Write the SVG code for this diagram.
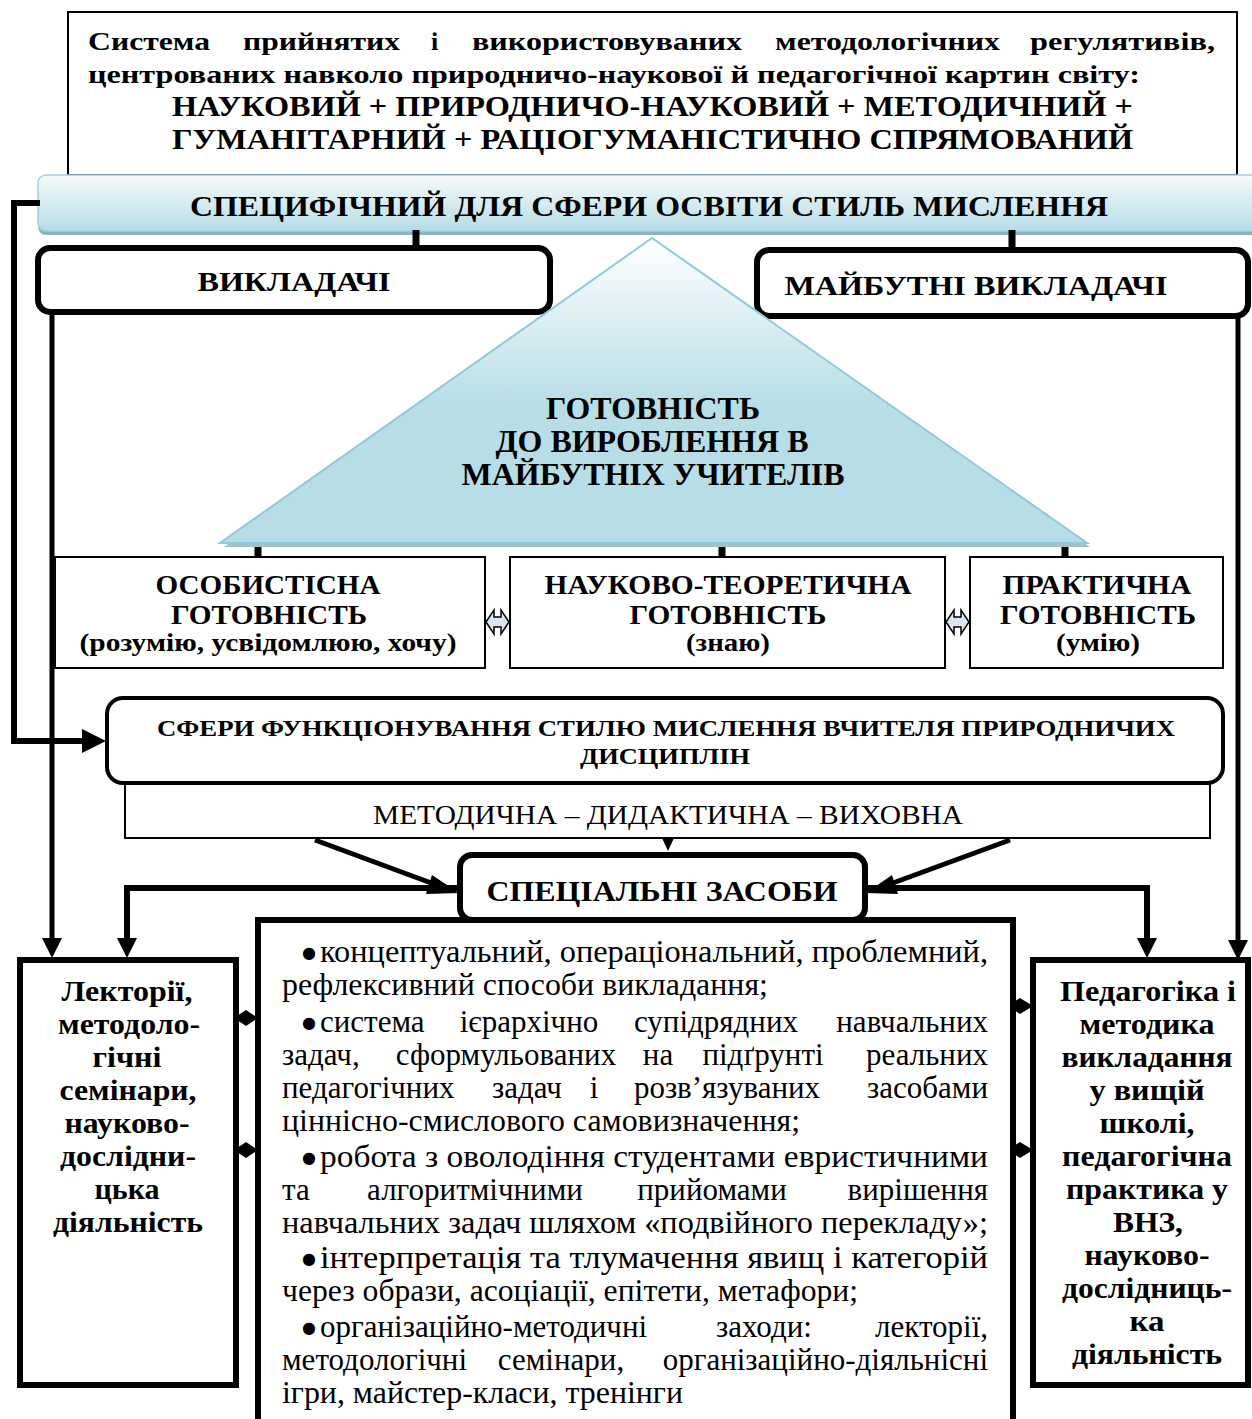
<svg xmlns="http://www.w3.org/2000/svg" width="1252" height="1419" viewBox="0 0 1252 1419">
<defs>
<linearGradient id="gBanner" x1="0" y1="0" x2="0" y2="1">
<stop offset="0" stop-color="#f7fbfc"/>
<stop offset="1" stop-color="#b5dce6"/>
</linearGradient>
<linearGradient id="gTri" gradientUnits="userSpaceOnUse" x1="0" y1="238" x2="0" y2="543">
<stop offset="0" stop-color="#ffffff"/>
<stop offset="0.55" stop-color="#b7dde6"/>
<stop offset="1" stop-color="#b7dde6"/>
</linearGradient>
<style>
.t{font-family:"Liberation Serif","Times New Roman",serif;fill:#000}
.b{font-weight:bold}
.box{fill:#fff;stroke:#000}
.thin{stroke-width:2}
.thick{stroke-width:6}
.c{text-anchor:middle}
.e{text-anchor:end}
.ln{fill:none;stroke:#000;stroke-width:6}
.body{font-size:31px}
.bul{font-family:"DejaVu Sans",sans-serif;font-size:16px}
</style>
</defs>

<g id="top-box">
<rect class="box thin" x="68" y="12" width="1169" height="163"/>
<text class="t b" font-size="26" y="50">
<tspan x="88" textLength="122" lengthAdjust="spacingAndGlyphs">Система</tspan>
<tspan x="243" textLength="157" lengthAdjust="spacingAndGlyphs">прийнятих</tspan>
<tspan x="431">і</tspan>
<tspan x="472" textLength="270" lengthAdjust="spacingAndGlyphs">використовуваних</tspan>
<tspan x="775" textLength="225" lengthAdjust="spacingAndGlyphs">методологічних</tspan>
<tspan x="1030" textLength="185" lengthAdjust="spacingAndGlyphs">регулятивів,</tspan>
</text>
<text class="t b" font-size="26" x="88" y="83" textLength="1052" lengthAdjust="spacingAndGlyphs">центрованих навколо природничо-наукової й педагогічної картин світу:</text>
<text class="t b" font-size="30" x="172" y="116" textLength="961" lengthAdjust="spacingAndGlyphs">НАУКОВИЙ + ПРИРОДНИЧО-НАУКОВИЙ + МЕТОДИЧНИЙ +</text>
<text class="t b" font-size="30" x="172" y="149" textLength="961" lengthAdjust="spacingAndGlyphs">ГУМАНІТАРНИЙ + РАЦІОГУМАНІСТИЧНО СПРЯМОВАНИЙ</text>
</g>

<g id="banner">
<rect x="38" y="179" width="1240" height="56" rx="8" fill="#8fb2bd"/>
<rect x="38" y="175" width="1240" height="56" rx="8" fill="url(#gBanner)" stroke="#9fd2df" stroke-width="1.5"/>
<text class="t b" font-size="30" x="190" y="216" textLength="918" lengthAdjust="spacingAndGlyphs">СПЕЦИФІЧНИЙ ДЛЯ СФЕРИ ОСВІТИ СТИЛЬ МИСЛЕННЯ</text>
</g>

<g id="connectors">
<path class="ln" d="M40,203 H14 V741 H88"/>
<path d="M82,729 L106,741 L82,753 z" fill="#000"/>
<line x1="416" y1="230" x2="416" y2="248" stroke="#000" stroke-width="7"/>
<line x1="1012" y1="230" x2="1012" y2="250" stroke="#000" stroke-width="7"/>
<line x1="52" y1="312" x2="52" y2="940" stroke="#000" stroke-width="5"/>
<path d="M42,938 L52,958 L62,938 z" fill="#000"/>
<line x1="1238" y1="316" x2="1238" y2="942" stroke="#000" stroke-width="5"/>
<path d="M1228,940 L1238,960 L1248,940 z" fill="#000"/>
<line x1="258" y1="541" x2="258" y2="558" stroke="#000" stroke-width="7"/>
<line x1="722" y1="541" x2="722" y2="558" stroke="#000" stroke-width="7"/>
<line x1="1065" y1="541" x2="1065" y2="558" stroke="#000" stroke-width="7"/>
<path d="M486,622 L494,610 L494,617 L501,617 L501,610 L509,622 L501,634 L501,627 L494,627 L494,634 z" fill="#dbe5f1" stroke="#000" stroke-width="1.5"/>
<path d="M946,622 L954,610 L954,617 L961,617 L961,610 L969,622 L961,634 L961,627 L954,627 L954,634 z" fill="#dbe5f1" stroke="#000" stroke-width="1.5"/>
<line x1="315" y1="840" x2="442" y2="887" stroke="#000" stroke-width="5"/>
<path d="M432,875 L459,893 L426,894 z" fill="#000"/>
<line x1="1010" y1="840" x2="882" y2="887" stroke="#000" stroke-width="5"/>
<path d="M892,875 L866,893 L898,894 z" fill="#000"/>
<path d="M662,838 L674,838 L668,851 z" fill="#000"/>
<path class="ln" d="M462,888 H127 V940"/>
<path d="M117,938 L127,958 L137,938 z" fill="#000"/>
<path class="ln" d="M863,888 H1147 V940"/>
<path d="M1137,938 L1147,958 L1157,938 z" fill="#000"/>
<path d="M234,1018 L246,1010 L258,1018 L246,1026 z" fill="#000"/>
<path d="M234,1150 L246,1142 L258,1150 L246,1158 z" fill="#000"/>
<path d="M1008,1006 L1020,998 L1033,1006 L1020,1014 z" fill="#000"/>
<path d="M1008,1150 L1020,1142 L1033,1150 L1020,1158 z" fill="#000"/>
</g>

<g id="teachers">
<rect class="box thick" x="38" y="248" width="512" height="64" rx="12"/>
<text class="t b c" font-size="28" x="294" y="291" textLength="193" lengthAdjust="spacingAndGlyphs">ВИКЛАДАЧІ</text>
</g>

<g id="future-teachers">
<rect class="box thick" x="757" y="250" width="491" height="66" rx="12"/>
<text class="t b c" font-size="28" x="976" y="295" textLength="383" lengthAdjust="spacingAndGlyphs">МАЙБУТНІ ВИКЛАДАЧІ</text>
</g>

<g id="readiness-triangle">
<polygon points="652,243 224,547 1090,547" fill="#a3c1ca"/>
<polygon points="652,238 220,543 1087,543" fill="url(#gTri)" stroke="#8ecadb" stroke-width="2"/>
<text class="t b c" font-size="31" x="653" y="419" textLength="214" lengthAdjust="spacingAndGlyphs">ГОТОВНІСТЬ</text>
<text class="t b c" font-size="31" x="652" y="452" textLength="313" lengthAdjust="spacingAndGlyphs">ДО ВИРОБЛЕННЯ В</text>
<text class="t b c" font-size="31" x="653" y="485" textLength="383" lengthAdjust="spacingAndGlyphs">МАЙБУТНІХ УЧИТЕЛІВ</text>
</g>

<g id="personal-readiness">
<rect class="box thin" x="55" y="557" width="430" height="111"/>
<text class="t b c" font-size="27" x="268" y="594" textLength="225" lengthAdjust="spacingAndGlyphs">ОСОБИСТІСНА</text>
<text class="t b c" font-size="27" x="269" y="624" textLength="196" lengthAdjust="spacingAndGlyphs">ГОТОВНІСТЬ</text>
<text class="t b c" font-size="25" x="268" y="651" textLength="377" lengthAdjust="spacingAndGlyphs">(розумію, усвідомлюю, хочу)</text>
</g>

<g id="theoretical-readiness">
<rect class="box thin" x="510" y="557" width="435" height="111"/>
<text class="t b c" font-size="27" x="728" y="594" textLength="367" lengthAdjust="spacingAndGlyphs">НАУКОВО-ТЕОРЕТИЧНА</text>
<text class="t b c" font-size="27" x="728" y="624" textLength="197" lengthAdjust="spacingAndGlyphs">ГОТОВНІСТЬ</text>
<text class="t b c" font-size="25" x="728" y="651" textLength="84" lengthAdjust="spacingAndGlyphs">(знаю)</text>
</g>

<g id="practical-readiness">
<rect class="box thin" x="970" y="557" width="253" height="111"/>
<text class="t b c" font-size="27" x="1097" y="594" textLength="189" lengthAdjust="spacingAndGlyphs">ПРАКТИЧНА</text>
<text class="t b c" font-size="27" x="1098" y="624" textLength="196" lengthAdjust="spacingAndGlyphs">ГОТОВНІСТЬ</text>
<text class="t b c" font-size="25" x="1098" y="651" textLength="84" lengthAdjust="spacingAndGlyphs">(умію)</text>
</g>

<g id="spheres">
<rect class="box" stroke-width="4" x="107" y="698" width="1116" height="85" rx="16"/>
<text class="t b c" font-size="24" x="666" y="736" textLength="1018" lengthAdjust="spacingAndGlyphs">СФЕРИ ФУНКЦІОНУВАННЯ СТИЛЮ МИСЛЕННЯ ВЧИТЕЛЯ ПРИРОДНИЧИХ</text>
<text class="t b c" font-size="24" x="665" y="764" textLength="170" lengthAdjust="spacingAndGlyphs">ДИСЦИПЛІН</text>
</g>

<g id="spheres-list">
<rect class="box thin" x="125" y="784" width="1085" height="54"/>
<text class="t c" font-size="27" x="668" y="824" textLength="590" lengthAdjust="spacingAndGlyphs">МЕТОДИЧНА – ДИДАКТИЧНА – ВИХОВНА</text>
</g>

<g id="special-means">
<rect class="box thick" x="460" y="855" width="405" height="65" rx="12"/>
<text class="t b c" font-size="29" x="662" y="901" textLength="351" lengthAdjust="spacingAndGlyphs">СПЕЦІАЛЬНІ ЗАСОБИ</text>
</g>

<g id="lectures">
<rect class="box thick" x="20" y="960" width="216" height="425"/>
<g class="t b c" font-size="30">
<text x="127" y="1001" textLength="131" lengthAdjust="spacingAndGlyphs">Лекторії,</text>
<text x="129" y="1034" textLength="142" lengthAdjust="spacingAndGlyphs">методоло-</text>
<text x="127" y="1067" textLength="69" lengthAdjust="spacingAndGlyphs">гічні</text>
<text x="128" y="1100" textLength="137" lengthAdjust="spacingAndGlyphs">семінари,</text>
<text x="127" y="1133" textLength="125" lengthAdjust="spacingAndGlyphs">науково-</text>
<text x="128" y="1166" textLength="136" lengthAdjust="spacingAndGlyphs">дослідни-</text>
<text x="127" y="1199" textLength="65" lengthAdjust="spacingAndGlyphs">цька</text>
<text x="128" y="1232" textLength="150" lengthAdjust="spacingAndGlyphs">діяльність</text>
</g>
</g>

<g id="means-list">
<rect class="box thick" x="258" y="920" width="755" height="520"/>
<g class="t body">
<text x="302" y="962"><tspan class="bul" dy="-4">●</tspan><tspan x="320" dy="4" textLength="668" lengthAdjust="spacingAndGlyphs">концептуальний, операціональний, проблемний,</tspan></text>
<text x="282" y="995" textLength="486" lengthAdjust="spacingAndGlyphs">рефлексивний способи викладання;</text>
<text x="302" y="1032"><tspan class="bul" dy="-4">●</tspan><tspan x="320" dy="4">система</tspan></text>
<text class="c" x="529" y="1032">ієрархічно</text>
<text class="c" x="716" y="1032">супідрядних</text>
<text class="e" x="988" y="1032">навчальних</text>
<text x="282" y="1065">задач,</text>
<text class="c" x="506" y="1065">сформульованих</text>
<text class="c" x="658" y="1065">на</text>
<text class="c" x="763" y="1065">підґрунті</text>
<text class="e" x="988" y="1065">реальних</text>
<text x="282" y="1098">педагогічних</text>
<text class="c" x="527" y="1098">задач</text>
<text class="c" x="594" y="1098">і</text>
<text class="c" x="727" y="1098">розв’язуваних</text>
<text class="e" x="988" y="1098">засобами</text>
<text x="282" y="1131" textLength="518" lengthAdjust="spacingAndGlyphs">ціннісно-смислового самовизначення;</text>
<text x="302" y="1167"><tspan class="bul" dy="-4">●</tspan><tspan x="320" dy="4" textLength="668" lengthAdjust="spacingAndGlyphs">робота з оволодіння студентами евристичними</tspan></text>
<text x="282" y="1200">та</text>
<text class="c" x="475" y="1200">алгоритмічними</text>
<text class="c" x="712" y="1200">прийомами</text>
<text class="e" x="988" y="1200">вирішення</text>
<text x="282" y="1233" textLength="706" lengthAdjust="spacingAndGlyphs">навчальних задач шляхом «подвійного перекладу»;</text>
<text x="302" y="1268"><tspan class="bul" dy="-4">●</tspan><tspan x="320" dy="4" textLength="668" lengthAdjust="spacingAndGlyphs">інтерпретація та тлумачення явищ і категорій</tspan></text>
<text x="282" y="1301" textLength="576" lengthAdjust="spacingAndGlyphs">через образи, асоціації, епітети, метафори;</text>
<text x="302" y="1337"><tspan class="bul" dy="-4">●</tspan><tspan x="320" dy="4">організаційно-методичні</tspan></text>
<text class="c" x="764" y="1337">заходи:</text>
<text class="e" x="988" y="1337">лекторії,</text>
<text x="282" y="1370">методологічні</text>
<text class="c" x="561" y="1370">семінари,</text>
<text class="e" x="988" y="1370">організаційно-діяльнісні</text>
<text x="282" y="1403" textLength="401" lengthAdjust="spacingAndGlyphs">ігри, майстер-класи, тренінги</text>
</g>
</g>

<g id="pedagogy">
<rect class="box thick" x="1033" y="960" width="215" height="425"/>
<g class="t b c" font-size="30">
<text x="1148" y="1001" textLength="176" lengthAdjust="spacingAndGlyphs">Педагогіка і</text>
<text x="1147" y="1034" textLength="135" lengthAdjust="spacingAndGlyphs">методика</text>
<text x="1147" y="1067" textLength="171" lengthAdjust="spacingAndGlyphs">викладання</text>
<text x="1147" y="1100" textLength="115" lengthAdjust="spacingAndGlyphs">у вищій</text>
<text x="1147" y="1133" textLength="95" lengthAdjust="spacingAndGlyphs">школі,</text>
<text x="1147" y="1166" textLength="170" lengthAdjust="spacingAndGlyphs">педагогічна</text>
<text x="1147" y="1199" textLength="162" lengthAdjust="spacingAndGlyphs">практика у</text>
<text x="1148" y="1232" textLength="70" lengthAdjust="spacingAndGlyphs">ВНЗ,</text>
<text x="1147" y="1265" textLength="125" lengthAdjust="spacingAndGlyphs">науково-</text>
<text x="1147" y="1298" textLength="170" lengthAdjust="spacingAndGlyphs">дослідниць-</text>
<text x="1147" y="1331" textLength="35" lengthAdjust="spacingAndGlyphs">ка</text>
<text x="1147" y="1364" textLength="150" lengthAdjust="spacingAndGlyphs">діяльність</text>
</g>
</g>
</svg>
